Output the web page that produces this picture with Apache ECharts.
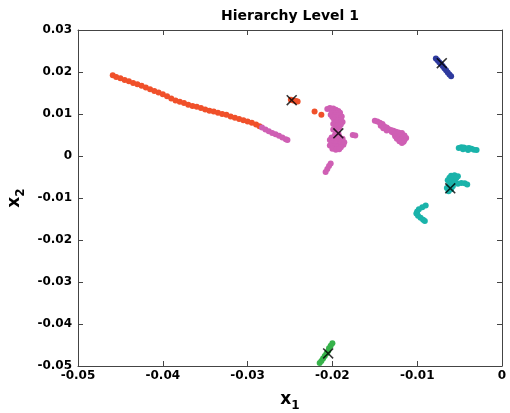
<!DOCTYPE html>
<html><head><meta charset="utf-8">
<script src="https://cdn.jsdelivr.net/npm/echarts@6/dist/echarts.min.js"></script>
<style>html,body{margin:0;padding:0;background:#fff}#c{width:510px;height:413px}</style>
</head><body><div id="c"></div>
<script>
var title = 'Hierarchy Level 1';
var xTicks = [-0.05, -0.04, -0.03, -0.02, -0.01, 0];
var xTickLabels = ['-0.05', '-0.04', '-0.03', '-0.02', '-0.01', '0'];
var yTicks = [-0.05, -0.04, -0.03, -0.02, -0.01, 0, 0.01, 0.02, 0.03];
var yTickLabels = ['-0.05', '-0.04', '-0.03', '-0.02', '-0.01', '0', '0.01', '0.02', '0.03'];

var orangePts = [[-0.0459,0.0192],[-0.0455,0.0188],[-0.0450,0.0185],[-0.0445,0.0181],[-0.0440,0.0178],[-0.0435,0.0174],[-0.0430,0.0171],[-0.0425,0.0167],[-0.0420,0.0163],[-0.0415,0.0159],[-0.0410,0.0155],[-0.0405,0.0151],[-0.0400,0.0147],[-0.0395,0.0142],[-0.0390,0.0137],[-0.0385,0.0132],[-0.0380,0.0129],[-0.0375,0.0126],[-0.0370,0.0122],[-0.0365,0.0119],[-0.0360,0.0117],[-0.0355,0.0114],[-0.0350,0.0111],[-0.0345,0.0108],[-0.0340,0.0106],[-0.0335,0.0103],[-0.0330,0.0100],[-0.0325,0.0098],[-0.0320,0.0094],[-0.0315,0.0091],[-0.0310,0.0088],[-0.0305,0.0085],[-0.0300,0.0082],[-0.0295,0.0079],[-0.0290,0.0075],[-0.0286,0.0071],
  [-0.0249,0.0134],[-0.0246,0.0132],[-0.0243,0.0131],[-0.0241,0.0130],[-0.0221,0.0106],[-0.0213,0.0098]];
var pinkPts = [[-0.0283,0.0068],[-0.0279,0.0063],[-0.0275,0.0059],[-0.0271,0.0055],[-0.0267,0.0052],[-0.0263,0.0048],[-0.0259,0.0044],[-0.0255,0.0040],[-0.0253,0.0038],
  [-0.0206,0.0112],[-0.0203,0.0114],[-0.0199,0.0113],[-0.0196,0.0110],[-0.0201,0.0108],[-0.0197,0.0106],[-0.0193,0.0107],[-0.0191,0.0103],[-0.0195,0.0101],[-0.0199,0.0102],[-0.0202,0.0098],[-0.0197,0.0096],[-0.0193,0.0097],[-0.0189,0.0094],[-0.0192,0.0090],[-0.0196,0.0091],[-0.0200,0.0093],[-0.0198,0.0087],[-0.0194,0.0085],[-0.0190,0.0086],[-0.0188,0.0081],[-0.0192,0.0079],[-0.0196,0.0081],[-0.0199,0.0076],[-0.0194,0.0074],[-0.0190,0.0075],[-0.0196,0.0069],[-0.0192,0.0068],
  [-0.0199,0.0063],[-0.0196,0.0058],[-0.0193,0.0054],[-0.0197,0.0050],[-0.0192,0.0047],
  [-0.0201,0.0044],[-0.0197,0.0043],[-0.0192,0.0042],[-0.0188,0.0041],[-0.0203,0.0038],[-0.0199,0.0037],[-0.0194,0.0036],[-0.0189,0.0036],[-0.0186,0.0033],[-0.0201,0.0031],[-0.0196,0.0030],[-0.0191,0.0029],[-0.0187,0.0027],[-0.0203,0.0025],[-0.0199,0.0023],[-0.0194,0.0022],[-0.0190,0.0021],[-0.0200,0.0017],[-0.0196,0.0015],[-0.0192,0.0016],
  [-0.0176,0.0050],[-0.0173,0.0049],
  [-0.0202,-0.0018],[-0.0204,-0.0024],[-0.0206,-0.0031],[-0.0208,-0.0038],
  [-0.0150,0.0084],[-0.0147,0.0082],[-0.0144,0.0079],[-0.0141,0.0076],[-0.0143,0.0072],[-0.0139,0.0071],[-0.0136,0.0068],[-0.0140,0.0066],[-0.0134,0.0064],[-0.0131,0.0062],[-0.0136,0.0061],[-0.0128,0.0060],[-0.0125,0.0058],[-0.0130,0.0057],[-0.0122,0.0056],[-0.0118,0.0055],[-0.0127,0.0053],[-0.0123,0.0051],[-0.0119,0.0050],[-0.0115,0.0049],[-0.0126,0.0047],[-0.0121,0.0045],[-0.0117,0.0044],[-0.0113,0.0043],[-0.0124,0.0041],[-0.0119,0.0039],[-0.0115,0.0038],[-0.0121,0.0035],[-0.0116,0.0034],[-0.0118,0.0031]];
var bluePts = [[-0.0078,0.0232],[-0.0076,0.0228],[-0.0074,0.0223],[-0.0072,0.0219],[-0.0070,0.0214],[-0.0068,0.0209],[-0.0066,0.0204],[-0.0064,0.0199],[-0.0062,0.0194],[-0.0060,0.0190]];
var tealPts = [[-0.0051,0.0019],[-0.0048,0.0021],[-0.0045,0.0020],[-0.0042,0.0018],[-0.0039,0.0019],[-0.0036,0.0017],[-0.0033,0.0015],[-0.0030,0.0014],[-0.0046,0.0016],[-0.0040,0.0014],
  [-0.0060,-0.0047],[-0.0056,-0.0046],[-0.0052,-0.0048],[-0.0062,-0.0052],[-0.0058,-0.0052],[-0.0054,-0.0053],[-0.0064,-0.0058],[-0.0060,-0.0059],[-0.0056,-0.0063],[-0.0052,-0.0066],[-0.0048,-0.0064],[-0.0044,-0.0065],[-0.0041,-0.0068],[-0.0062,-0.0068],[-0.0058,-0.0072],[-0.0065,-0.0076],[-0.0060,-0.0079],[-0.0063,-0.0084],
  [-0.0090,-0.0118],[-0.0094,-0.0122],[-0.0098,-0.0127],[-0.0100,-0.0132],[-0.0101,-0.0137],[-0.0099,-0.0142],[-0.0096,-0.0147],[-0.0093,-0.0152],[-0.0091,-0.0155]];
var greenPts = [[-0.0200,-0.0446],[-0.0202,-0.0452],[-0.0204,-0.0458],[-0.0205,-0.0464],[-0.0207,-0.0470],[-0.0209,-0.0476],[-0.0211,-0.0482],[-0.0213,-0.0488],[-0.0215,-0.0493]];
var centers = [[-0.0248,0.0133],[-0.0193,0.0054],[-0.0071,0.0221],[-0.0061,-0.0077],[-0.0205,-0.0470]];

var font = 'DejaVu Sans';
function fmt(ticks, labels){ return function(v){ for (var i=0;i<ticks.length;i++){ if (Math.abs(ticks[i]-v)<1e-9) return labels[i]; } return ''; }; }
var lblStyle = {fontFamily: font, fontWeight: 'bold', fontSize: 12, color: '#000'};
var axLine = {onZero: false, lineStyle: {color: '#444', width: 1}};
var tick = {inside: true, length: 5, lineStyle: {color: '#444'}};
function sc(name, data, color){
  return {type: 'scatter', name: name, data: data, symbol: 'circle', symbolSize: 6,
    itemStyle: {color: color, opacity: 1}, silent: true};
}
var subRich = {a: {fontFamily: font, fontWeight: 'bold', fontSize: 17, color: '#000'},
               b: {fontFamily: font, fontWeight: 'bold', fontSize: 12, color: '#000', padding: [12,0,0,0]}};
var chart = echarts.init(document.getElementById('c'), null, {renderer: 'canvas'});
chart.setOption({
  animation: false,
  backgroundColor: '#fff',
  title: {text: title, left: 221, top: 9, padding: 0,
    textStyle: {fontFamily: font, fontWeight: 'bold', fontSize: 14, color: '#000'}},
  grid: {left: 78, right: 8, top: 30, bottom: 47, containLabel: false, outerBoundsMode: 'none'},
  xAxis: [
    {type: 'value', min: -0.05, max: 0, interval: 0.01, position: 'bottom',
     axisLine: axLine, axisTick: tick, splitLine: {show: false},
     axisLabel: Object.assign({formatter: fmt(xTicks, xTickLabels), margin: 4}, lblStyle),
     name: '{a|x}{b|1}', nameLocation: 'middle', nameGap: 22,
     nameTextStyle: {rich: subRich}},
    {type: 'value', min: -0.05, max: 0, interval: 0.01, position: 'top',
     axisLine: axLine, axisTick: tick, splitLine: {show: false}, axisLabel: {show: false}}
  ],
  yAxis: [
    {type: 'value', min: -0.05, max: 0.03, interval: 0.01, position: 'left',
     axisLine: axLine, axisTick: tick, splitLine: {show: false},
     axisLabel: Object.assign({formatter: fmt(yTicks, yTickLabels), margin: 6}, lblStyle),
     name: '{a|x}{b|2}', nameLocation: 'middle', nameGap: 48, nameRotate: 90,
     nameTextStyle: {rich: subRich}},
    {type: 'value', min: -0.05, max: 0.03, interval: 0.01, position: 'right',
     axisLine: axLine, axisTick: tick, splitLine: {show: false}, axisLabel: {show: false}}
  ],
  series: [
    sc('c1', orangePts, '#f0502a'),
    sc('c2', pinkPts, '#cf5fb4'),
    sc('c3', bluePts, '#2e3a9e'),
    sc('c4', tealPts, '#1ab3aa'),
    sc('c5', greenPts, '#36b24a'),
    {type: 'scatter', name: 'centers', data: centers, z: 10, silent: true,
     symbol: 'path://M0,1L1,0L5,4L9,0L10,1L6,5L10,9L9,10L5,6L1,10L0,9L4,5Z', symbolSize: 11,
     itemStyle: {color: '#000'}}
  ]
});
</script></body></html>
